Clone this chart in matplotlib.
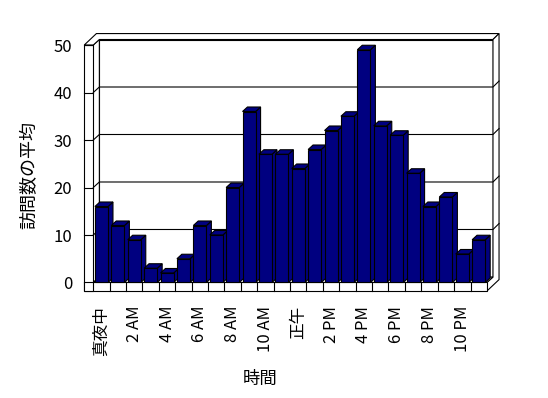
import matplotlib
matplotlib.use('Agg')
import matplotlib.pyplot as plt
from matplotlib.patches import Polygon

plt.rcParams['font.family'] = ['Noto Sans CJK JP', 'DejaVu Sans']

# --- データ ---
hours = list(range(24))
visits = [16, 12, 9, 3, 2, 5, 12, 10, 20, 36, 27, 27,
          24, 28, 32, 35, 49, 33, 31, 23, 16, 18, 6, 9]
tick_labels = ['真夜中', '2 AM', '4 AM', '6 AM', '8 AM', '10 AM',
               '正午', '2 PM', '4 PM', '6 PM', '8 PM', '10 PM']
y_ticks = [0, 10, 20, 30, 40, 50]

n = len(visits)
ymax = 50
bar_color = '#000080'

# 疑似3Dの奥行き (データ単位)
Dx, Dy = 0.37, 1.16     # 床の奥行き
Tx, Ty = 0.37, 1.25     # 壁の厚み
L = 0.55                # 左の壁の厚み
F = 1.8                 # 床の厚み
bw = 0.8                # 棒の幅
bx, by = 0.30, 0.95     # 棒の奥行き

fig = plt.figure(figsize=(5.48, 3.98), dpi=100)
ax = fig.add_axes([0.1403, 0.2544, 0.7931, 0.6683])
ax.set_xlim(-1, 25.5)
ax.set_ylim(-3, 53)
for s in ax.spines.values():
    s.set_visible(False)

def poly(pts, fc='white', z=1, lw=0.8):
    ax.add_patch(Polygon(pts, closed=True, facecolor=fc, edgecolor='black',
                         linewidth=lw, zorder=z))

# 奥の壁
poly([(Dx, Dy), (n + Dx, Dy), (n + Dx, ymax + Dy), (Dx, ymax + Dy)])
# 左の壁の内側
poly([(0, 0), (Dx, Dy), (Dx, ymax + Dy), (0, ymax)])
# 上面
poly([(-L, ymax), (0, ymax), (Dx, ymax + Dy), (n + Dx, ymax + Dy),
      (n + Dx + Tx, ymax + Dy + Ty), (-L + Dx + Tx, ymax + Dy + Ty)])
# 右側面
poly([(n, 0), (n, -F), (n + Dx + Tx, -F + Dy + Ty), (n + Dx + Tx, ymax + Dy + Ty),
      (n + Dx, ymax + Dy), (n + Dx, Dy)])
# 床
poly([(0, 0), (n, 0), (n + Dx, Dy), (Dx, Dy)])
poly([(-L, -F), (n, -F), (n, 0), (-L, 0)])
# 左の壁の前面
poly([(-L, -F), (0, -F), (0, ymax), (-L, ymax)])

# 目盛線
for v in y_ticks:
    ax.plot([-L, 0], [v, v], color='black', lw=0.8, zorder=2)
    if 0 < v < ymax:
        ax.plot([0, Dx, n + Dx, n + Dx + Tx], [v, v + Dy, v + Dy, v + Dy + Ty],
                color='black', lw=0.8, zorder=2)
for i in range(1, n):
    ax.plot([i, i], [-F, 0], color='black', lw=0.8, zorder=2)

# 棒の側面と上面
for i, v in enumerate(visits):
    x0 = i + (1 - bw) / 2
    x1 = x0 + bw
    poly([(x1, 0), (x1 + bx, by), (x1 + bx, v + by), (x1, v)], fc=bar_color, z=3)
    poly([(x0, v), (x1, v), (x1 + bx, v + by), (x0 + bx, v + by)], fc=bar_color, z=3)

# 棒の前面
ax.bar([h + 0.5 for h in hours], visits, width=bw, color=bar_color,
       edgecolor='black', linewidth=0.8, zorder=4)

ax.set_yticks(y_ticks)
ax.set_yticklabels([str(v) for v in y_ticks], fontsize=12)
ax.set_xticks([h + 0.5 for h in hours[::2]])
ax.set_xticklabels(tick_labels, rotation=90, fontsize=12)
ax.tick_params(axis='y', length=0, pad=3.5)
ax.tick_params(axis='x', length=0, pad=6.5)

ax.set_xlabel('時間', fontsize=12.5)
ax.xaxis.set_label_coords(0.421, -0.275)
ax.set_ylabel('訪問数の平均', fontsize=13)
ax.yaxis.set_label_coords(-0.088, 0.458)

fig.savefig('out.png', dpi=100, facecolor='white')
